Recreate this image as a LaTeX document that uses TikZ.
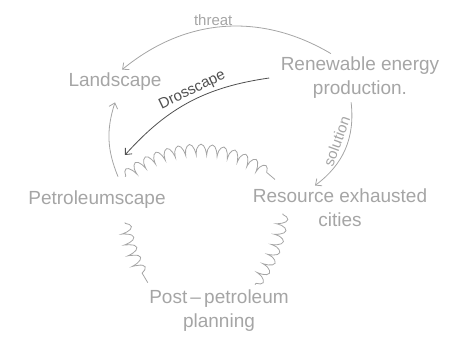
\documentclass[tikz,border=0pt]{standalone}
\usepackage{fontspec}
\setmainfont{Liberation Sans}
\usetikzlibrary{arrows.meta,decorations.pathmorphing}
\definecolor{pencil}{RGB}{165,165,165}
\definecolor{lead}{RGB}{80,80,80}
\begin{document}
\begin{tikzpicture}[x=1pt,y=1pt,
    lbl/.style={text=pencil,font=\fontsize{19}{24}\selectfont,align=center},
    small/.style={text=pencil,font=\fontsize{15}{18}\selectfont,inner sep=2pt},
    arr/.style={draw=pencil,line width=0.8pt,-{Straight Barb[length=5pt,width=9pt]}},
    wavy/.style={draw=pencil,line width=0.8pt,decorate,
      decoration={coil,aspect=0.3,amplitude=5.5pt,segment length=11pt,pre length=1pt,post length=1pt}}]
  \useasboundingbox (0,0) rectangle (467,346);
  \node[lbl] (Land) at (115,264) {Landscape};
  \node[lbl] (Renew) at (360,268) {Renewable energy\\production.};
  \node[lbl] (Petro) at (97,146) {Petroleumscape};
  \node[lbl] (Res) at (340,138) {Resource exhausted\\cities};
  \node[lbl] (Post) at (219,35) {Post\,--\,petroleum\\planning};
  \coordinate (DrossEnd) at (125,191);
  \draw[arr] (Renew.140) to[bend right=35]
    node[pos=0.55,above,small]{threat} (Land.60);
  \draw[arr,draw=lead] ([xshift=-8pt]Renew.west) to[bend right=20]
    node[pos=0.45,above,sloped,small,text=lead]{Drosscape} (DrossEnd);
  \draw[arr] ([shift={(21,11)}]Petro.north) to[bend left=20] ([yshift=-8pt]Land.south);
  \draw[arr] (Renew.250) to[bend left=30]
    node[pos=0.45,above=3pt,sloped,small]{solution} (Res.138);
  % wavy links
  \draw[wavy] ([shift={(28,11)}]Petro.north) to[bend left=40] ([shift={(-65,6)}]Res.north);
  \draw[wavy] ([shift={(28,-10)}]Petro.south) to[bend right=10] ([shift={(2,4)}]Post.north west);
  \draw[wavy] ([shift={(-57,17)}]Res.south) to[bend left=15] ([shift={(36,2)}]Post.north);
\end{tikzpicture}
\end{document}
